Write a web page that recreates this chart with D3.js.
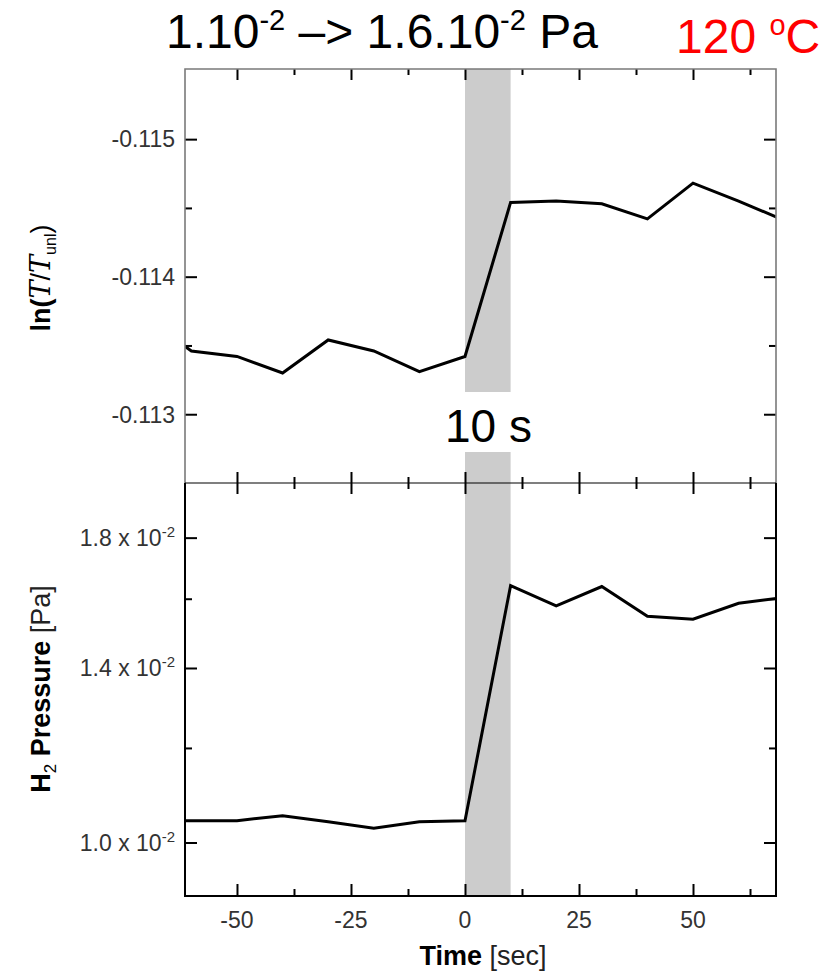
<!DOCTYPE html>
<html>
<head>
<meta charset="utf-8">
<script src="https://cdn.jsdelivr.net/npm/d3@7"></script>
<style>
  html, body { margin: 0; padding: 0; background: #fff; }
  svg { display: block; font-family: "Liberation Sans", Arial, Helvetica, sans-serif; }
</style>
</head>
<body>
<script>
// Time axis (s) relative to the H2 pressure step
const times = [-70, -60, -50, -40, -30, -20, -10, 0, 10, 20, 30, 40, 50, 60, 70];

// ln(T/T_unl) response
const lnRatio = [-0.11370, -0.11346, -0.11342, -0.11330, -0.11354, -0.11346, -0.11331,
                 -0.11342, -0.11454, -0.11455, -0.11453, -0.11442, -0.11468, -0.11455, -0.11441];

// H2 pressure (Pa)
const h2Pressure = [1.043e-2, 1.043e-2, 1.043e-2, 1.053e-2, 1.041e-2, 1.028e-2, 1.041e-2,
                    1.043e-2, 1.641e-2, 1.578e-2, 1.638e-2, 1.547e-2, 1.538e-2, 1.586e-2, 1.604e-2];

// Step window (s)
const stepWindow = [0, 10];

// Tick values
const xMajorTicks = [-50, -25, 0, 25, 50];
const xMinorTicks = [-37.5, -12.5, 12.5, 37.5, 62.5];
const lnMajorTicks = [-0.115, -0.114, -0.113];
const lnMinorTicks = [-0.1145, -0.1135];
const pMajorTicks = [1.0e-2, 1.4e-2, 1.8e-2];
const pMinorTicks = [1.2e-2, 1.6e-2];
const pTickMantissa = ["1.0", "1.4", "1.8"];

// Layout
const W = 833, H = 975;
const left = 185, right = 776;
const topY0 = 69, midY = 483, botY1 = 896;

const svg = d3.select("body").append("svg").attr("width", W).attr("height", H);

const x = d3.scaleLinear().domain([-61.4, 68.2]).range([left, right]);
const yTop = d3.scaleLinear().domain([-0.11551, -0.11250]).range([topY0, midY]);
const yBot = d3.scaleLog().domain([0.902e-2, 2.0e-2]).range([botY1, midY]);

// Clip paths for each panel
const defs = svg.append("defs");
defs.append("clipPath").attr("id", "clipTop").append("rect")
  .attr("x", left).attr("y", topY0).attr("width", right - left).attr("height", midY - topY0);
defs.append("clipPath").attr("id", "clipBot").append("rect")
  .attr("x", left).attr("y", midY).attr("width", right - left).attr("height", botY1 - midY);

// Shaded step window with a gap for its label
const bandX0 = x(stepWindow[0]), bandX1 = x(stepWindow[1]);
svg.append("rect").attr("x", bandX0).attr("y", topY0)
  .attr("width", bandX1 - bandX0).attr("height", 392 - topY0).attr("fill", "#cccccc");
svg.append("rect").attr("x", bandX0).attr("y", 452)
  .attr("width", bandX1 - bandX0).attr("height", botY1 - 452).attr("fill", "#cccccc");

// Data lines
const lineTop = d3.line().x((d, i) => x(times[i])).y(d => yTop(d));
const lineBot = d3.line().x((d, i) => x(times[i])).y(d => yBot(d));

svg.append("path").datum(lnRatio).attr("clip-path", "url(#clipTop)")
  .attr("d", lineTop).attr("fill", "none").attr("stroke", "#000")
  .attr("stroke-width", 3).attr("stroke-linejoin", "miter");
svg.append("path").datum(h2Pressure).attr("clip-path", "url(#clipBot)")
  .attr("d", lineBot).attr("fill", "none").attr("stroke", "#000")
  .attr("stroke-width", 3).attr("stroke-linejoin", "miter");

// Tick helper: axis with ticks only
function ticks(axisFn, scale, values, size, tx, ty, width) {
  const g = svg.append("g").attr("transform", `translate(${tx},${ty})`)
    .call(axisFn(scale).tickValues(values).tickSize(size).tickFormat(""));
  g.select(".domain").remove();
  g.selectAll(".tick line").attr("stroke", "#000").attr("stroke-width", width || 2);
  return g;
}

// Top panel ticks
ticks(d3.axisLeft, yTop, lnMajorTicks, -12, left, 0);
ticks(d3.axisLeft, yTop, lnMinorTicks, -7, left, 0);
ticks(d3.axisRight, yTop, lnMajorTicks, -12, right, 0);
ticks(d3.axisRight, yTop, lnMinorTicks, -7, right, 0);
ticks(d3.axisTop, x, xMajorTicks, -11, 0, topY0);
ticks(d3.axisTop, x, xMinorTicks, -6, 0, topY0);
ticks(d3.axisBottom, x, xMajorTicks, -11, 0, midY);
ticks(d3.axisBottom, x, xMinorTicks, -6, 0, midY);

// Bottom panel ticks
ticks(d3.axisTop, x, xMajorTicks, -11, 0, midY);
ticks(d3.axisTop, x, xMinorTicks, -6, 0, midY);
ticks(d3.axisLeft, yBot, pMajorTicks, -12, left, 0);
ticks(d3.axisLeft, yBot, pMinorTicks, -7, left, 0);
ticks(d3.axisRight, yBot, pMajorTicks, -12, right, 0);
ticks(d3.axisRight, yBot, pMinorTicks, -7, right, 0);
ticks(d3.axisBottom, x, xMajorTicks, -12, 0, botY1);
ticks(d3.axisBottom, x, xMinorTicks, -7, 0, botY1);

// Frames
svg.append("path")
  .attr("d", `M${left},${midY}V${topY0}H${right}V${midY}`)
  .attr("fill", "none").attr("stroke", "#7a7a7a").attr("stroke-width", 1.6);
svg.append("line").attr("x1", left).attr("x2", right).attr("y1", midY).attr("y2", midY)
  .attr("stroke", "#000").attr("stroke-width", 1.2);
svg.append("path")
  .attr("d", `M${left},${midY}V${botY1}H${right}V${midY}`)
  .attr("fill", "none").attr("stroke", "#000").attr("stroke-width", 2);

// Tick labels
const tickFont = 23;
svg.append("g").selectAll("text").data(lnMajorTicks).join("text")
  .attr("x", left - 10).attr("y", d => yTop(d)).attr("dy", "0.36em")
  .attr("text-anchor", "end").attr("font-size", tickFont).attr("fill", "#333")
  .text(d => d.toFixed(3));

const pLabels = svg.append("g").selectAll("text").data(pMajorTicks).join("text")
  .attr("x", left - 10).attr("y", d => yBot(d)).attr("dy", "0.36em")
  .attr("text-anchor", "end").attr("font-size", tickFont).attr("fill", "#333");
pLabels.append("tspan").text((d, i) => pTickMantissa[i] + " x 10");
pLabels.append("tspan").attr("dy", -9).attr("font-size", 15).text("-2");

svg.append("g").selectAll("text").data(xMajorTicks).join("text")
  .attr("x", d => x(d)).attr("y", 928)
  .attr("text-anchor", "middle").attr("font-size", tickFont).attr("fill", "#333")
  .text(d => String(d));

// Axis titles
const xt = svg.append("text").attr("x", 483).attr("y", 965)
  .attr("text-anchor", "middle").attr("font-size", 27).attr("fill", "#000");
xt.append("tspan").attr("font-weight", "bold").text("Time");
xt.append("tspan").attr("fill", "#222").text(" [sec]");

const yt1 = svg.append("text").attr("transform", "translate(50,278) rotate(-90)")
  .attr("text-anchor", "middle").attr("font-size", 27).attr("fill", "#000");
yt1.append("tspan").attr("font-weight", "bold").text("ln(");
yt1.append("tspan").attr("font-style", "italic").attr("font-family", "'DejaVu Serif', serif").text("T");
yt1.append("tspan").text("/");
yt1.append("tspan").attr("font-style", "italic").attr("font-family", "'DejaVu Serif', serif").text("T");
yt1.append("tspan").attr("font-size", 16).attr("dy", 6).text("unl");
yt1.append("tspan").attr("dy", -6).text(")");

const yt2 = svg.append("text").attr("transform", "translate(50,689) rotate(-90)")
  .attr("text-anchor", "middle").attr("font-size", 27).attr("fill", "#000");
yt2.append("tspan").attr("font-weight", "bold").text("H");
yt2.append("tspan").attr("font-size", 17).attr("dy", 6).text("2");
yt2.append("tspan").attr("font-weight", "bold").attr("dy", -6).text(" Pressure");
yt2.append("tspan").attr("fill", "#222").text(" [Pa]");

// Heading
const title = svg.append("text").attr("x", 166).attr("y", 48)
  .attr("font-size", 48).attr("fill", "#000");
title.append("tspan").text("1.10");
title.append("tspan").attr("font-size", 29).attr("dy", -18).text("-2");
title.append("tspan").attr("dy", 18).text(" \u2013> 1.6.10");
title.append("tspan").attr("font-size", 29).attr("dy", -18).text("-2");
title.append("tspan").attr("dy", 18).text(" Pa");

const temp = svg.append("text").attr("x", 676).attr("y", 53)
  .attr("font-size", 48).attr("fill", "#ff0000");
temp.append("tspan").text("120 ");
temp.append("tspan").attr("font-size", 29).attr("dy", -18).text("o");
temp.append("tspan").attr("dy", 18).text("C");

// Step duration label
svg.append("text").attr("x", 445).attr("y", 442)
  .attr("font-size", 46).attr("fill", "#000").text("10 s");
</script>
</body>
</html>
